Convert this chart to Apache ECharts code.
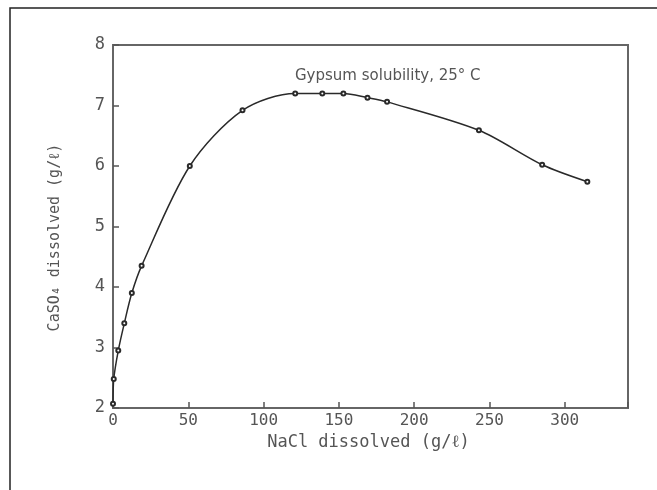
<!DOCTYPE html>
<html>
<head>
<meta charset="utf-8">
<script src="https://cdn.jsdelivr.net/npm/echarts@6/dist/echarts.min.js"></script>
<style>
  html, body { margin: 0; padding: 0; background: #fff; }
  #chart { width: 657px; height: 490px; }
</style>
</head>
<body>
<div id="chart"></div>
<script>
// Gypsum (CaSO4) solubility in NaCl solutions at 25 °C
const naclDissolved = [0, 0.5, 3.5, 7.5, 12.5, 19, 51, 86, 121, 139, 153, 169, 182, 243, 285, 315];
const caso4Dissolved = [2.07, 2.48, 2.95, 3.4, 3.9, 4.35, 6.0, 6.92, 7.2, 7.2, 7.2, 7.13, 7.06, 6.59, 6.02, 5.74];
const xTicks = [0, 50, 100, 150, 200, 250, 300];
const yTicks = [2, 3, 4, 5, 6, 7, 8];

const points = naclDissolved.map((x, i) => [x, caso4Dissolved[i]]);
const ink = '#555';
const font = '"DejaVu Sans Mono", monospace';

const chart = echarts.init(document.getElementById('chart'), null, { renderer: 'canvas' });
chart.setOption({
  animation: false,
  backgroundColor: '#fff',
  title: {
    text: 'Gypsum solubility, 25° C',
    left: 290,
    top: 64,
    textStyle: { color: ink, fontFamily: '"DejaVu Sans", sans-serif', fontSize: 15, fontWeight: 'normal' }
  },
  grid: {
    left: 113, right: 29, top: 45, bottom: 82,
    show: true, borderColor: '#666', borderWidth: 2, backgroundColor: 'transparent'
  },
  graphic: [{
    type: 'polyline',
    shape: { points: [[10, 490], [10, 8], [657, 8]] },
    style: { stroke: '#222', lineWidth: 1.5, fill: null }
  }],
  xAxis: {
    type: 'value',
    min: 0, max: 342, interval: 50,
    name: 'NaCl dissolved (g/ℓ)',
    nameLocation: 'middle', nameGap: 20,
    nameTextStyle: { color: ink, fontFamily: font, fontSize: 17, padding: [0, 4, 0, 0] },
    axisLine: { show: true, lineStyle: { color: '#666', width: 2 } },
    axisTick: { show: true, inside: true, length: 6, lineStyle: { color: '#555', width: 1.5 } },
    axisLabel: {
      color: ink, fontFamily: font, fontSize: 16, margin: 5,
      formatter: v => xTicks.includes(v) ? String(v) : ''
    },
    splitLine: { show: false }
  },
  yAxis: {
    type: 'value',
    min: 2, max: 8, interval: 1,
    name: 'CaSO₄ dissolved (g/ℓ)',
    nameLocation: 'middle', nameGap: 50,
    nameTextStyle: { color: ink, fontFamily: font, fontSize: 15, padding: [0, 22, 0, 0] },
    axisLine: { show: true, lineStyle: { color: '#666', width: 2 } },
    axisTick: { show: true, inside: true, length: 6, lineStyle: { color: '#555', width: 1.5 } },
    axisLabel: {
      color: ink, fontFamily: font, fontSize: 17, margin: 8,
      formatter: v => yTicks.includes(v) ? String(v) : ''
    },
    splitLine: { show: false }
  },
  series: [{
    type: 'line',
    data: points,
    smooth: 0.3,
    symbol: 'emptyCircle',
    symbolSize: 4,
    lineStyle: { color: '#2a2a2a', width: 1.5 },
    itemStyle: { color: '#2a2a2a', borderWidth: 1 }
  }]
});
</script>
</body>
</html>
